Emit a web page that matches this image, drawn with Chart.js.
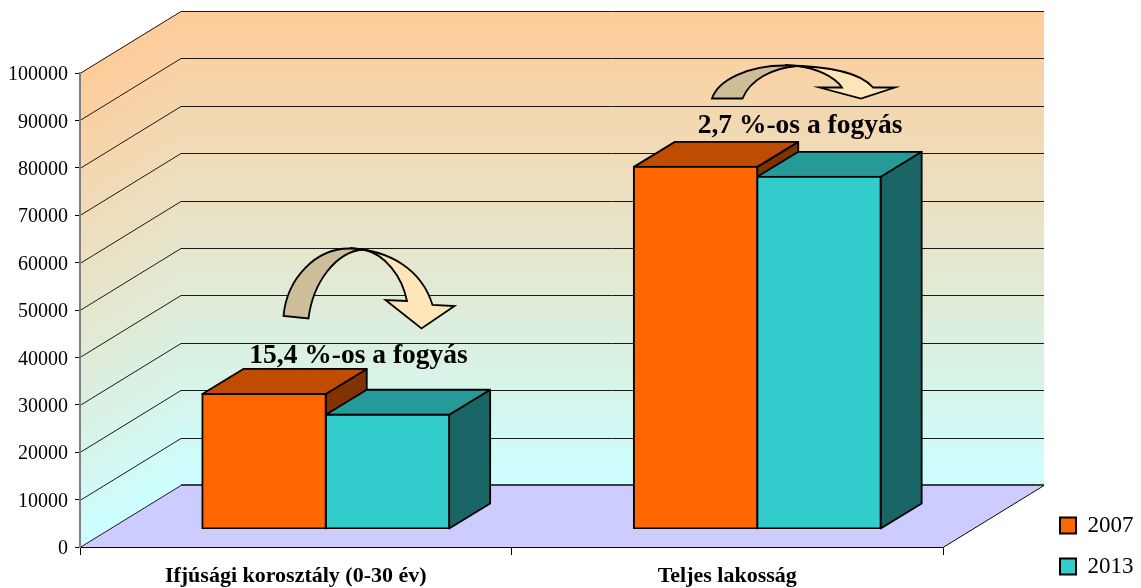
<!DOCTYPE html>
<html>
<head>
<meta charset="utf-8">
<style>html,body{margin:0;padding:0;background:#fff}canvas{display:block}</style>
<script src="https://cdn.jsdelivr.net/npm/chart.js@4/dist/chart.umd.min.js"></script>
</head>
<body>
<canvas id="c" width="1141" height="588" style="width:1141px;height:588px"></canvas>
<script>
const categories = ["Ifjúsági korosztály (0-30 év)", "Teljes lakosság"];
const seriesNames = ["2007", "2013"];
const values2007 = [28500, 76400];
const values2013 = [24100, 74300];
const tickStep = 10000;
const axisMax = 100000;
const noteLeft = "15,4 %-os a fogyás";
const noteRight = "2,7 %-os a fogyás";

const FONT = '"Liberation Serif","Times New Roman",serif';
const WALL = {dx: 101, dy: -62};      // depth of the box
const BAR = {dx: 41, dy: -25};        // depth of one bar
const SHIFT = {dx: 30, dy: -18};      // bars stand mid-way on the floor
const faces = [
  {front: "#FF6600", top: "#BF4C00", side: "#803300"},
  {front: "#33CCCC", top: "#269999", side: "#1A6666"}
];

function poly(ctx, pts, fill, stroke, lw) {
  ctx.beginPath();
  pts.forEach((p, i) => i ? ctx.lineTo(p[0], p[1]) : ctx.moveTo(p[0], p[1]));
  ctx.closePath();
  if (fill) { ctx.fillStyle = fill; ctx.fill(); }
  if (stroke) { ctx.strokeStyle = stroke; ctx.lineWidth = lw; ctx.stroke(); }
}

const box3d = {
  id: "box3d",
  beforeDraw(chart) {
    const {ctx, chartArea: a, scales: {y}} = chart;
    const L = a.left, R = a.right, T = y.getPixelForValue(axisMax), B = y.getPixelForValue(0);
    const dx = WALL.dx, dy = WALL.dy;
    const grad = ctx.createLinearGradient(0, T + dy, 0, B + dy);
    grad.addColorStop(0, "#FFCC99");
    grad.addColorStop(1, "#CCFFFF");
    // back wall
    ctx.save();
    ctx.fillStyle = grad;
    ctx.fillRect(L + dx, T + dy, R - L, B - T);
    // left wall: the same gradient, sheared along the depth
    ctx.beginPath();
    ctx.moveTo(L, T); ctx.lineTo(L + dx, T + dy); ctx.lineTo(L + dx, B + dy); ctx.lineTo(L, B);
    ctx.closePath();
    ctx.clip();
    ctx.transform(1, dy / dx, 0, 1, 0, -(L + dx) * dy / dx);
    ctx.fillStyle = grad;
    ctx.fillRect(L - 5, T + dy - 20, dx + 10, B - T + 40);
    ctx.restore();
    // floor
    poly(ctx, [[L, B], [R, B], [R + dx, B + dy], [L + dx, B + dy]], "#CCCCFF");
    // grid lines on both walls
    ctx.save();
    ctx.strokeStyle = "#1a1a1a";
    ctx.lineWidth = 1;
    y.ticks.forEach(t => {
      const py = Math.round(y.getPixelForValue(t.value)) + 0.5;
      ctx.beginPath();
      ctx.moveTo(L, py);
      ctx.lineTo(L + dx, py + dy);
      if (t.value > 0) ctx.lineTo(R + dx, py + dy);
      ctx.stroke();
    });
    ctx.strokeStyle = "#404040";
    ctx.lineWidth = 2;
    ctx.beginPath();
    ctx.moveTo(L + dx, B + dy); ctx.lineTo(R + dx, B + dy);
    ctx.stroke();
    ctx.strokeStyle = "#000";
    ctx.lineWidth = 1;
    ctx.beginPath();
    ctx.moveTo(R, B + 0.5); ctx.lineTo(R + dx, B + dy + 0.5);
    ctx.stroke();
    ctx.restore();
  },
  beforeDatasetsDraw(chart) {
    const {ctx} = chart;
    chart.data.datasets.forEach((ds, di) => {
      chart.getDatasetMeta(di).data.forEach(el => {
        const p = el.getProps(["x", "y", "base", "width"], true);
        const l = p.x - p.width / 2 + SHIFT.dx, r = p.x + p.width / 2 + SHIFT.dx;
        const t = p.y + SHIFT.dy, b = p.base + SHIFT.dy;
        const dx = BAR.dx, dy = BAR.dy;
        ctx.save();
        ctx.lineJoin = "round";
        poly(ctx, [[r, t], [r + dx, t + dy], [r + dx, b + dy], [r, b]], faces[di].side, "#000", 1.8);
        poly(ctx, [[l, t], [r, t], [r + dx, t + dy], [l + dx, t + dy]], faces[di].top, "#000", 1.8);
        ctx.restore();
      });
    });
    ctx.save();
    ctx.translate(SHIFT.dx, SHIFT.dy);
  },
  afterDatasetsDraw(chart) {
    chart.ctx.restore();
  },
  afterLayout(chart) {
    const lg = chart.legend;
    const p = lg.options.labels.padding;
    const w = lg.width;
    lg.left = 1060 - p; lg.right = lg.left + w;
    lg.top = 496; lg.bottom = lg.top + lg.height;
    lg.adjustHitBoxes();
  }
};

function arrow(ctx, tan, light) {
  ctx.save();
  ctx.lineJoin = "miter";
  ctx.strokeStyle = "#000";
  ctx.lineWidth = 1.8;
  ctx.beginPath();
  light(ctx);
  ctx.closePath();
  ctx.fillStyle = "#FFE6B8";
  ctx.fill();
  ctx.stroke();
  ctx.beginPath();
  tan(ctx);
  ctx.closePath();
  ctx.fillStyle = "#CDBD98";
  ctx.fill();
  ctx.stroke();
  ctx.restore();
}

const notes = {
  id: "notes",
  afterDraw(chart) {
    const {ctx} = chart;
    arrow(ctx, c => {
      c.moveTo(283.5, 316);
      c.bezierCurveTo(287, 278, 316, 248, 350, 248.5);
      c.quadraticCurveTo(357, 248.5, 363, 249.5);
      c.bezierCurveTo(336, 252, 313, 282, 308.5, 318.5);
    }, c => {
      c.moveTo(350, 248.5);
      c.bezierCurveTo(390, 250, 422, 270, 432.5, 305);
      c.lineTo(454.5, 306);
      c.lineTo(421.5, 328.5);
      c.lineTo(385.5, 300);
      c.lineTo(407, 301);
      c.bezierCurveTo(402, 276, 385, 254, 363, 249.5);
    });
    arrow(ctx, c => {
      c.moveTo(712, 98.5);
      c.bezierCurveTo(718, 80, 748, 65.5, 785, 65.5);
      c.quadraticCurveTo(791, 65.5, 797, 66);
      c.bezierCurveTo(772, 68, 750, 80, 742.5, 98.5);
    }, c => {
      c.moveTo(785, 65.5);
      c.bezierCurveTo(825, 66, 860, 72, 873, 87.5);
      c.lineTo(895, 87.5);
      c.lineTo(861, 98.5);
      c.lineTo(819.5, 87.5);
      c.lineTo(842, 87.5);
      c.bezierCurveTo(834, 76, 815, 68, 797, 66);
    });
    ctx.save();
    ctx.fillStyle = "#000";
    ctx.font = "bold 27.5px " + FONT;
    ctx.textAlign = "center";
    ctx.textBaseline = "alphabetic";
    ctx.fillText(noteLeft, 358.5, 363);
    ctx.fillText(noteRight, 800, 133);
    ctx.restore();
  }
};

new Chart(document.getElementById("c"), {
  type: "bar",
  data: {
    labels: categories,
    datasets: [
      {label: seriesNames[0], data: values2007, backgroundColor: faces[0].front, borderColor: "#000", borderWidth: 2, borderSkipped: false, inflateAmount: 1},
      {label: seriesNames[1], data: values2013, backgroundColor: faces[1].front, borderColor: "#000", borderWidth: 2, borderSkipped: false, inflateAmount: 1}
    ]
  },
  plugins: [box3d, notes],
  options: {
    responsive: false,
    animation: false,
    devicePixelRatio: 1,
    layout: {padding: {left: 0, top: 73, right: 198, bottom: 0}},
    datasets: {bar: {categoryPercentage: 0.572, barPercentage: 1}},
    plugins: {
      tooltip: {enabled: false},
      title: {display: false},
      legend: {
        position: "chartArea",
        align: "start",
        labels: {
          boxWidth: 16, boxHeight: 16, padding: 18, color: "#000",
          font: {family: FONT, size: 23}
        }
      }
    },
    scales: {
      x: {
        afterFit(s) { s.height = 41; },
        grid: {drawOnChartArea: false, color: "#000", tickLength: 8, lineWidth: 1},
        border: {color: "#000", width: 1},
        ticks: {color: "#000", font: {family: FONT, size: 22, weight: "bold"}, padding: 8, maxRotation: 0, autoSkip: false}
      },
      y: {
        min: 0,
        max: axisMax,
        afterFit(s) { s.width = 80; },
        grid: {drawOnChartArea: false, color: "#000", tickLength: 5, lineWidth: 1},
        border: {color: "#808080", width: 2},
        ticks: {stepSize: tickStep, color: "#000", font: {family: FONT, size: 20}, padding: 7, labelOffset: 2, callback: v => String(v)}
      }
    }
  }
});
</script>
</body>
</html>
